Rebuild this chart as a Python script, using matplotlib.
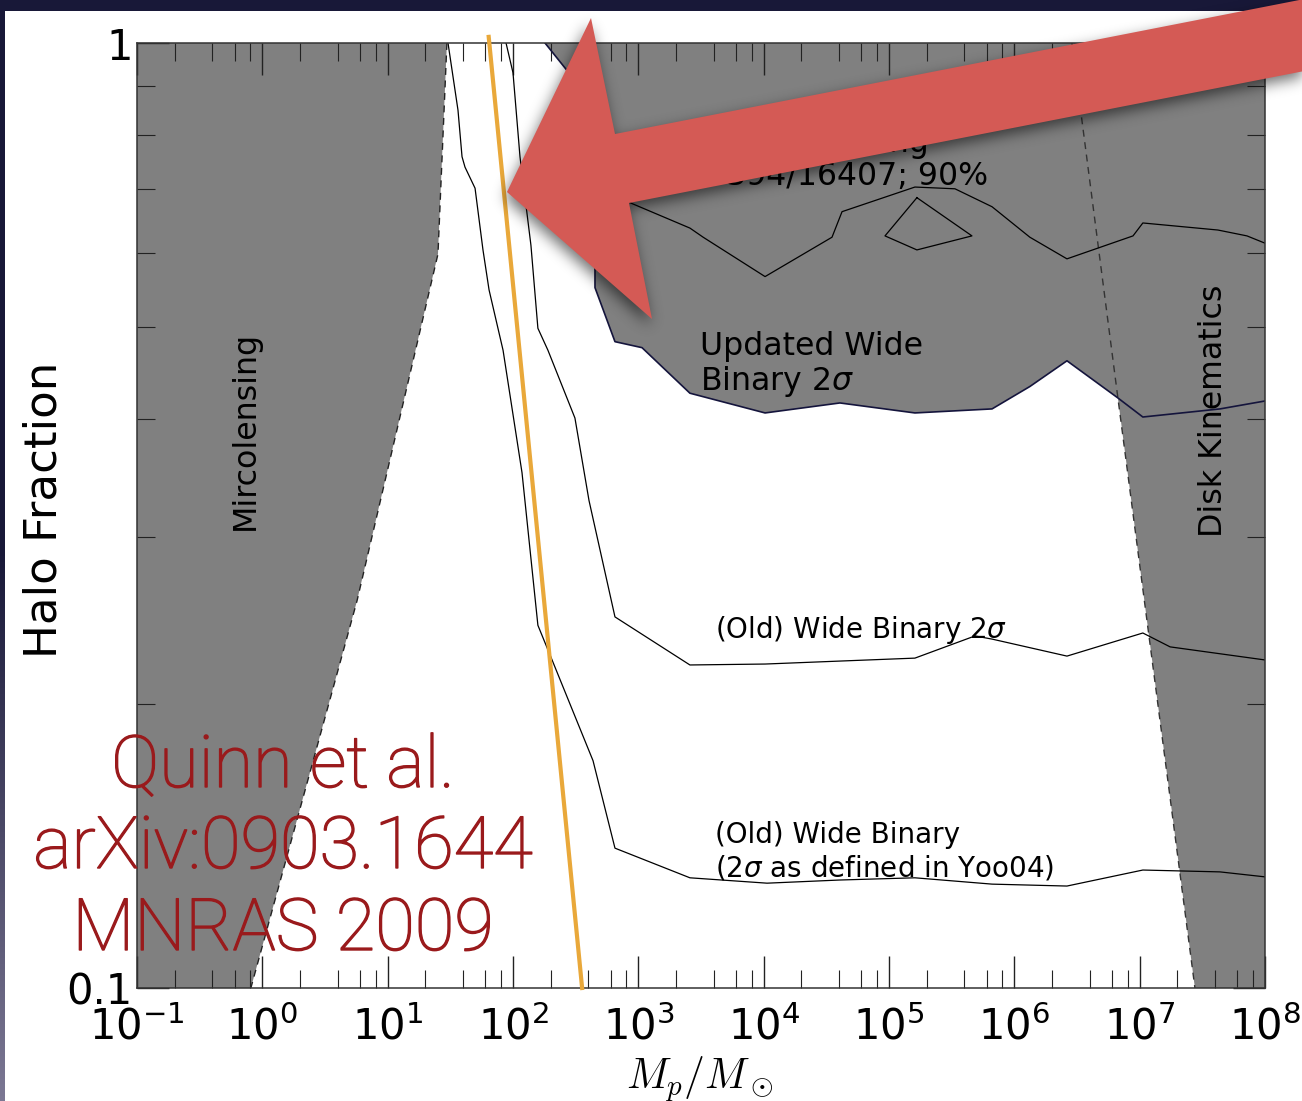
import numpy as np
import matplotlib
matplotlib.use('Agg')
from matplotlib import pyplot as plt
from matplotlib import patheffects
from matplotlib.path import Path
from matplotlib.patches import Polygon, Rectangle
from matplotlib.ticker import LogLocator, NullFormatter, FixedLocator, FixedFormatter

W, H = 1302, 1101

# excluded regions: (mass / M_sun, halo fraction) along each boundary
micro_m = [29.7, 25.2, 5.7, 0.81]
micro_f = [1.0, 0.598, 0.257, 0.1]

disk_m = [2.88e6, 6.72e6, 2.76e7]
disk_f = [1.0, 0.42, 0.1]

upd_m = [180, 260, 468, 451, 451, 651, 1070, 2580, 10260, 40600, 161000, 664000,
         1.33e6, 2.63e6, 6.72e6, 1.06e7, 4.37e7, 1e8]
upd_f = [1.0, 0.941, 0.853, 0.575, 0.551, 0.483, 0.476, 0.426, 0.406, 0.416, 0.406, 0.410,
         0.433, 0.461, 0.421, 0.402, 0.410, 0.418]

# 90% lensing contour and its small island
lens_m = [494, 828, 2580, 3290, 10260, 35100, 42200, 161000, 336000, 664000, 1.33e6,
          2.63e6, 8.85e6, 1.06e7, 4.21e7, 7.18e7, 1e8]
lens_f = [0.695, 0.679, 0.637, 0.623, 0.566, 0.623, 0.663, 0.704, 0.701, 0.671, 0.623,
          0.591, 0.625, 0.645, 0.634, 0.625, 0.614]
island_m = [167000, 459000, 167000, 92900, 167000]
island_f = [0.686, 0.625, 0.604, 0.625, 0.686]

# old wide binary limits
old_m = [88, 100, 113.7, 139, 158, 190, 312, 404, 651, 2580, 10260, 40600, 161000,
         485000, 664000, 2.63e6, 1.06e7, 1.75e7, 1e8]
old_f = [1.0, 0.930, 0.758, 0.611, 0.499, 0.473, 0.401, 0.328, 0.247, 0.2197, 0.2202,
         0.2218, 0.2234, 0.2358, 0.234, 0.2245, 0.2375, 0.2296, 0.2224]

yoo_m = [30.3, 36.4, 39.2, 41.4, 49.8, 57.6, 64.4, 83.3, 118, 158, 205, 435, 651, 2580,
         10640, 40600, 161000, 664000, 2.63e6, 1.06e7, 4.37e7, 1e8]
yoo_f = [1.0, 0.849, 0.758, 0.739, 0.702, 0.604, 0.548, 0.473, 0.351, 0.242, 0.2224,
         0.174, 0.1406, 0.1308, 0.1291, 0.1301, 0.1308, 0.1288, 0.1282, 0.1333, 0.1327,
         0.1311]

# highlighted mass cut
cut_m = [64, 356]
cut_f = [1.015, 0.1]

ytick_vals = [0.1, 1]
ytick_labels = ['0.1', '1']
ref_lines = ['Quinn et al.', 'arXiv:0903.1644', 'MNRAS 2009']

GRAY = '#808080'
REF_RED = '#9a1a1c'

fig = plt.figure(figsize=(W / 100, H / 100), dpi=100, facecolor='#181838')

# slide background: dark frame with a white panel
bg = fig.add_axes([0, 0, 1, 1], zorder=-10)
bg.axis('off')
t = np.clip((np.arange(H) - 550) / (H - 550), 0, 1)[:, None, None]
dark = np.array([0x18, 0x18, 0x38]) / 255
light = np.array([0x7c, 0x78, 0x94]) / 255
grad = dark + t * (light - dark)
bg.imshow(grad, extent=(0, W, H, 0), aspect='auto')
bg.add_patch(Rectangle((5, 11), W, H, fc='white', ec='none'))
bg.set_xlim(0, W)
bg.set_ylim(H, 0)

ax = fig.add_axes([137 / W, 1 - 988 / H, 1128 / W, 945 / H])
ax.set_xscale('log')
ax.set_yscale('log')
ax.set_xlim(0.1, 1e8)
ax.set_ylim(0.1, 1)

ax.fill(micro_m + [0.1, 0.1], micro_f + [0.1, 1.0], color=GRAY, lw=0, zorder=1)
ax.fill(disk_m + [1e8, 1e8], disk_f + [0.1, 1.0], color=GRAY, lw=0, zorder=1)
ax.fill(upd_m + [1e8], upd_f + [1.0], color=GRAY, lw=0, zorder=1)

dash = (0, (5, 4))
ax.plot(micro_m, micro_f, color='#222222', lw=1.0, ls=dash, zorder=2)
ax.plot(disk_m, disk_f, color='#333333', lw=1.0, ls=dash, zorder=2)
ax.plot(upd_m, upd_f, color='#14143c', lw=1.2, zorder=2)
ax.plot(lens_m, lens_f, color='black', lw=0.9, zorder=2)
ax.plot(island_m, island_f, color='black', lw=0.9, zorder=2)
ax.plot(old_m, old_f, color='black', lw=0.9, zorder=2)
ax.plot(yoo_m, yoo_f, color='black', lw=0.9, zorder=2)
ax.plot(cut_m, cut_f, color='#e9a83a', lw=3, clip_on=False, zorder=4)

# labels; multi-line texts are anchored on the baseline of their last line
ax.text(0.727, 0.389, 'Mircolensing', rotation=90, ha='center', va='center', fontsize=22.8)
ax.text(3.85e7, 0.408, 'Disk Kinematics', rotation=90, ha='center', va='center',
        fontsize=22.8)
ax.text(3105, 0.429, 'Updated Wide\nBinary 2$\\sigma$', fontsize=22.7, va='baseline',
        linespacing=1.1)
ax.text(2400, 0.7075, 'Updated Fitting\n10394/16407; 90%', fontsize=22.7, va='baseline',
        linespacing=1.1)
ax.text(4090, 0.2345, '(Old) Wide Binary 2$\\sigma$', fontsize=20, va='baseline')
ax.text(4090, 0.1311, '(Old) Wide Binary\n(2$\\sigma$ as defined in Yoo04)', fontsize=20,
        va='baseline', linespacing=1.2)

ax.xaxis.set_major_locator(LogLocator(base=10, numticks=20))
ax.xaxis.set_minor_locator(LogLocator(base=10, subs=(2, 4, 6, 8), numticks=20))
ax.xaxis.set_minor_formatter(NullFormatter())
ax.yaxis.set_major_locator(FixedLocator(ytick_vals))
ax.yaxis.set_major_formatter(FixedFormatter(ytick_labels))
ax.yaxis.set_minor_locator(LogLocator(base=10, subs=np.arange(2, 10), numticks=20))
ax.yaxis.set_minor_formatter(NullFormatter())

ax.tick_params(which='both', direction='in', top=True, right=True, color='#222222')
ax.tick_params(which='major', length=23, width=1.0, labelsize=30)
ax.tick_params(which='minor', length=13, width=0.8)
ax.tick_params(axis='x', which='major', pad=13)
ax.tick_params(axis='y', which='major', pad=3)
for s in ax.spines.values():
    s.set_linewidth(1.1)
    s.set_color('#333333')

ax.set_ylabel('Halo Fraction', fontsize=32.5)
ax.yaxis.set_label_coords(-0.0638, 0.506)
ax.set_xlabel('$M_p/M_\\odot$', fontsize=30, math_fontfamily='cm')
ax.xaxis.set_label_coords(0.499, -0.07)

for line, base in zip(ref_lines, [787, 868, 950]):
    fig.text(283 / W, 1 - base / H, line, ha='center', va='baseline', fontsize=52,
             color=REF_RED, family='Roboto', weight='light',
             path_effects=[patheffects.withStroke(linewidth=1.0, foreground=REF_RED)])

# pointer arrow with a soft drop shadow, in figure pixels
ov = fig.add_axes([0, 0, 1, 1], zorder=5)
ov.axis('off')
ov.patch.set_visible(False)
arrow = np.array([(507, 192), (591, 18), (615, 134), (1330, -6),
                  (1330, 66), (629, 203), (652, 319)], dtype=float)
yy, xx = np.mgrid[0:H, 0:W]
pts = np.column_stack([xx.ravel() + 0.5, yy.ravel() + 0.5])
mask = Path(arrow + [-2, 6]).contains_points(pts).reshape(H, W).astype(float)
sig = 7
r = int(3 * sig)
k = np.exp(-0.5 * (np.arange(-r, r + 1) / sig) ** 2)
k /= k.sum()
mask = np.apply_along_axis(lambda v: np.convolve(v, k, mode='same'), 0, mask)
mask = np.apply_along_axis(lambda v: np.convolve(v, k, mode='same'), 1, mask)
shadow = np.zeros((H, W, 4))
shadow[..., 3] = 0.55 * mask
ov.imshow(shadow, extent=(0, W, H, 0), aspect='auto', interpolation='nearest')
ov.add_patch(Polygon(arrow, closed=True, fc='#d45a55', ec='none'))
ov.set_xlim(0, W)
ov.set_ylim(H, 0)

fig.savefig('out.png', dpi=100, facecolor=fig.get_facecolor())
